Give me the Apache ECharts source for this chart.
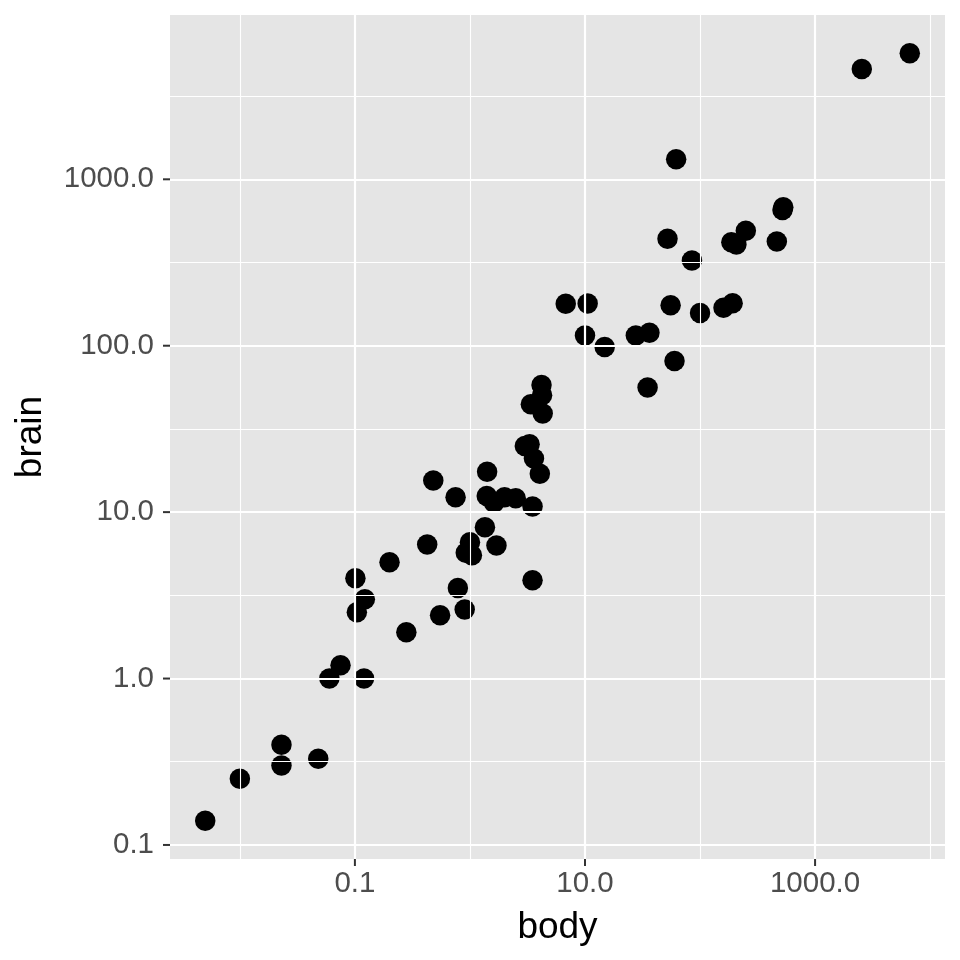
<!DOCTYPE html>
<html><head><meta charset="utf-8">
<script src="https://cdn.jsdelivr.net/npm/echarts@6/dist/echarts.min.js"></script>
<style>html,body{margin:0;padding:0;background:#fff}#c{width:960px;height:960px}</style>
</head><body><div id="c"></div>
<script>
const species = ["Arctic fox","Owl monkey","Mountain beaver","Cow","Grey wolf","Goat","Roe deer","Guinea pig","Verbet","Chinchilla","Ground squirrel","Arctic ground squirrel","African giant pouched rat","Lesser short-tailed shrew","Star-nosed mole","Nine-banded armadillo","Tree hyrax","N.A. opossum","Asian elephant","Big brown bat","Donkey","Horse","European hedgehog","Patas monkey","Cat","Galago","Genet","Giraffe","Gorilla","Grey seal","Rock hyrax-a","Human","African elephant","Water opossum","Rhesus monkey","Kangaroo","Yellow-bellied marmot","Golden hamster","Mouse","Little brown bat","Slow loris","Okapi","Rabbit","Sheep","Jaguar","Chimpanzee","Baboon","Desert hedgehog","Giant armadillo","Rock hyrax-b","Raccoon","Rat","E. American mole","Mole rat","Musk shrew","Pig","Echidna","Brazilian tapir","Tenrec","Phalanger","Tree shrew","Red fox"];
const body = [3.385,0.48,1.35,465,36.33,27.66,14.83,1.04,4.19,0.425,0.101,0.92,1,0.005,0.06,3.5,2,1.7,2547,0.023,187.1,521,0.785,10,3.3,0.2,1.41,529,207,85,0.75,62,6654,3.5,6.8,35,4.05,0.12,0.023,0.01,1.4,250,2.5,55.5,100,52.16,10.55,0.55,60,3.6,4.288,0.28,0.075,0.122,0.048,192,3,160,0.9,1.62,0.104,4.235];
const brain = [44.5,15.5,8.1,423,119.5,115,98.2,5.5,58,6.4,4,5.7,6.6,0.14,1,10.8,12.3,6.3,4603,0.3,419,655,3.5,115,25.6,5,17.5,680,406,325,12.3,1320,5712,3.9,179,56,17,1,0.4,0.25,12.5,490,12.1,175,157,440,179.5,2.4,81,21,39.2,1.9,1.2,3,0.33,180,25,169,2.6,11.4,2.5,50.4];

const xMajor = [0.1, 10, 1000];
const xMajorLabels = ["0.1", "10.0", "1000.0"];
const xMinor = [0.01, 1, 100, 10000];
const yMajor = [0.1, 1, 10, 100, 1000];
const yMajorLabels = ["0.1", "1.0", "10.0", "100.0", "1000.0"];
const yMinor = [0.316227766, 3.16227766, 31.6227766, 316.227766, 3162.27766];

const L = Math.log10;
const lx = body.map(L), ly = brain.map(L);
function range(a){const mn=Math.min(...a),mx=Math.max(...a),e=(mx-mn)*0.05;return [mn-e,mx+e];}
const xr = range(lx), yr = range(ly);
function fmt(ticks, labels){return function(v){for(let i=0;i<ticks.length;i++){if(Math.abs(L(ticks[i])-v)<1e-6)return labels[i];}return '';};}

const lbl = {color:'#4D4D4D', fontSize:29.5, fontFamily:'Liberation Sans, Arial, sans-serif'};
const ttl = {color:'#000', fontSize:37, fontFamily:'Liberation Sans, Arial, sans-serif'};

const gridLines = [];
xMinor.forEach(v=>gridLines.push({xAxis:L(v), lineStyle:{width:1.1}}));
yMinor.forEach(v=>gridLines.push({yAxis:L(v), lineStyle:{width:1.1}}));
xMajor.forEach(v=>gridLines.push({xAxis:L(v), lineStyle:{width:2.2}}));
yMajor.forEach(v=>gridLines.push({yAxis:L(v), lineStyle:{width:2.2}}));

const chart = echarts.init(document.getElementById('c'), null, {renderer:'canvas'});
chart.setOption({
  animation:false,
  backgroundColor:'#fff',
  grid:{left:170, right:15, top:15, bottom:101, show:true, backgroundColor:'#E5E5E5', borderWidth:0},
  xAxis:{type:'value', min:xr[0], max:xr[1],
    name:'body', nameLocation:'middle', nameGap:50, nameTextStyle:ttl,
    axisLine:{show:false}, splitLine:{show:false}, axisTick:{show:false},
    axisLabel:Object.assign({customValues:xMajor.map(L), margin:10, formatter:fmt(xMajor,xMajorLabels)}, lbl)},
  yAxis:{type:'value', min:yr[0], max:yr[1],
    name:'brain', nameLocation:'middle', nameGap:121, nameTextStyle:ttl,
    axisLine:{show:false}, splitLine:{show:false}, axisTick:{show:false},
    axisLabel:Object.assign({customValues:yMajor.map(L), margin:16, formatter:fmt(yMajor,yMajorLabels)}, lbl)},
  series:[
    {type:'scatter', data:[], z:1, silent:true,
     markLine:{silent:true, symbol:['none','none'], label:{show:false}, animation:false,
       lineStyle:{color:'#fff', type:'solid'}, data:gridLines}},
    {type:'scatter', z:3, symbol:'circle', symbolSize:20.5, itemStyle:{color:'#000', opacity:1},
     data: lx.map((x,i)=>[x, ly[i]])}
  ]
});

// axis tick marks placed through the chart's own scales
const tickLen = 7;
const yBottom = chart.convertToPixel({gridIndex:0}, [xr[0], yr[0]])[1];
const xLeft = chart.convertToPixel({gridIndex:0}, [xr[0], yr[0]])[0];
const ticks = [];
xMajor.forEach(v=>{
  const px = chart.convertToPixel({gridIndex:0}, [L(v), yr[0]])[0];
  ticks.push({type:'line', silent:true, shape:{x1:px, y1:yBottom, x2:px, y2:yBottom+tickLen}, style:{stroke:'#333', lineWidth:2}});
});
yMajor.forEach(v=>{
  const py = chart.convertToPixel({gridIndex:0}, [xr[0], L(v)])[1];
  ticks.push({type:'line', silent:true, shape:{x1:xLeft-tickLen, y1:py, x2:xLeft, y2:py}, style:{stroke:'#333', lineWidth:2}});
});
chart.setOption({graphic:{elements:ticks}});
</script></body></html>
